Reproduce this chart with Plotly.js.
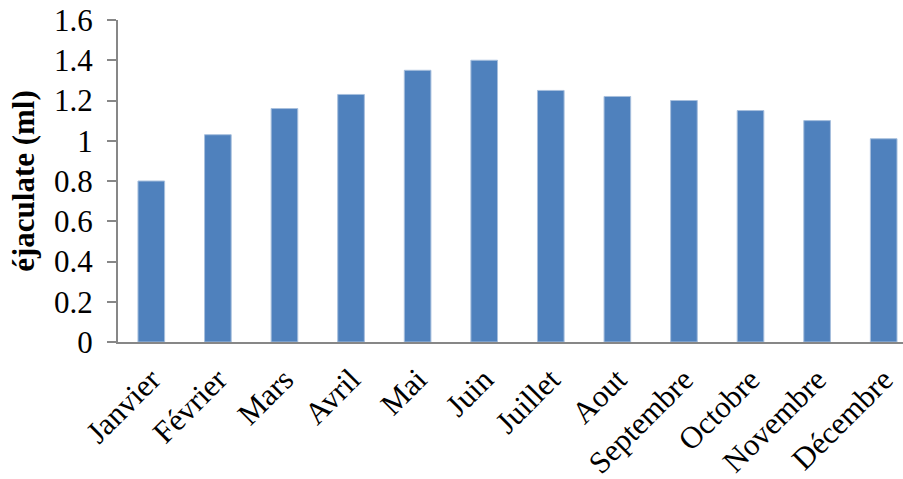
<!DOCTYPE html>
<html>
<head>
<meta charset="utf-8">
<script src="https://cdn.plot.ly/plotly-3.0.1.min.js"></script>
<style>
  html, body { margin: 0; padding: 0; background: #ffffff; }
  #chart { width: 903px; height: 479px; }
</style>
</head>
<body>
<div id="chart"></div>
<script>
// Monthly ejaculate volume (ml)
const months = ["Janvier", "Février", "Mars", "Avril", "Mai", "Juin",
                "Juillet", "Aout", "Septembre", "Octobre", "Novembre", "Décembre"];
const volumeMl = [0.80, 1.03, 1.16, 1.23, 1.35, 1.40, 1.25, 1.22, 1.20, 1.15, 1.10, 1.01];
const yTicks = [0, 0.2, 0.4, 0.6, 0.8, 1, 1.2, 1.4, 1.6];
const yTickText = ["0", "0.2", "0.4", "0.6", "0.8", "1", "1.2", "1.4", "1.6"];

const serif = "'Liberation Serif', 'Times New Roman', serif";
const axisGrey = "#878787";

const trace = {
  type: "bar",
  x: months,
  y: volumeMl,
  width: 0.4,
  marker: { color: "#4f81bd", line: { color: "#a7bfdd", width: 1 } },
  hoverinfo: "x+y"
};

const layout = {
  width: 903,
  height: 479,
  margin: { l: 118, r: 0, t: 20, b: 137 },
  paper_bgcolor: "#ffffff",
  plot_bgcolor: "#ffffff",
  showlegend: false,
  bargap: 0.6,
  font: { family: serif, color: "#000000", size: 30 },
  xaxis: {
    type: "category",
    range: [-0.5, 11.29],
    showline: true,
    linecolor: axisGrey,
    linewidth: 2,
    ticks: "",
    tickangle: -45,
    tickfont: { family: serif, size: 31, color: "#000000" },
    ticklabelstandoff: 5,
    showgrid: false,
    zeroline: false,
    fixedrange: true
  },
  yaxis: {
    range: [0, 1.6],
    tickmode: "array",
    tickvals: yTicks,
    ticktext: yTickText,
    showline: true,
    linecolor: axisGrey,
    linewidth: 2,
    ticks: "outside",
    ticklen: 9,
    tickwidth: 2,
    tickcolor: axisGrey,
    tickfont: { family: serif, size: 31, color: "#000000" },
    ticklabelstandoff: 8,
    showgrid: false,
    zeroline: false,
    fixedrange: true,
    title: {
      text: "<b>éjaculate (ml)</b>",
      font: { family: serif, size: 31, color: "#000000" },
      standoff: 10
    }
  }
};

Plotly.newPlot("chart", [trace], layout, { displayModeBar: false, staticPlot: true });
</script>
</body>
</html>
